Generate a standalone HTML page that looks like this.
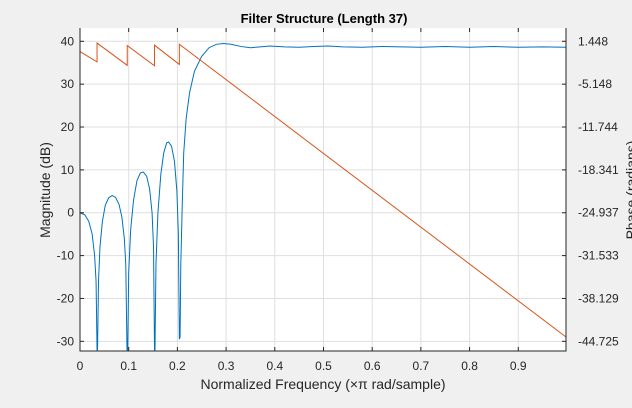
<!DOCTYPE html>
<html><head><meta charset="utf-8"><style>
body{margin:0;background:#f0f0f0;}
svg{display:block;font-family:"Liberation Sans",sans-serif;}
</style></head><body>
<svg id="chart" width="632" height="408" viewBox="0 0 632 408">
<rect x="0" y="0" width="632" height="408" fill="#f0f0f0"/>
<rect x="80" y="28" width="486" height="323" fill="#ffffff"/>
<g id="grid"></g>
<g id="series"></g>
<g id="axes"></g>
<text x="324" y="23" text-anchor="middle" font-size="13" font-weight="bold" fill="#000">Filter Structure (Length 37)</text>
<text x="323" y="389" text-anchor="middle" font-size="14" fill="#262626">Normalized Frequency (×π rad/sample)</text>
<text transform="translate(50,190) rotate(-90)" text-anchor="middle" font-size="14" fill="#262626">Magnitude (dB)</text>
<text transform="translate(636,190) rotate(-90)" text-anchor="middle" font-size="14" fill="#262626">Phase (radians)</text>
</svg>
<script>
const magFreq=[0,0.01,0.018,0.025,0.03,0.033,0.035,0.036,0.038,0.041,0.046,0.052,0.059,0.066,0.073,0.08,0.086,0.091,0.094,0.0965,0.098,0.1,0.104,0.11,0.117,0.124,0.13,0.137,0.143,0.148,0.151,0.153,0.154,0.156,0.16,0.166,0.172,0.178,0.182,0.188,0.194,0.199,0.202,0.204,0.2055,0.207,0.21,0.213,0.218,0.225,0.235,0.25,0.265,0.28,0.295,0.31,0.33,0.35,0.37,0.39,0.42,0.45,0.48,0.51,0.54,0.58,0.62,0.66,0.7,0.75,0.8,0.85,0.9,0.95,0.998];
const magDb=[0,-0.5,-2,-5,-10,-16,-32,-32,-16,-8,-2,1.8,3.5,4,3.6,2,-1,-6,-12,-32,-32,-14,-4,3,7.5,9.3,9.5,8.5,5.5,0,-8,-32,-32,-12,0,9,14,16.3,16.5,15.5,12,5,-5,-29.5,-29,-12,2,14,22,28,33,36.5,38.5,39.3,39.5,39.3,38.8,38.5,38.7,38.9,38.7,38.6,38.8,38.9,38.7,38.6,38.8,38.7,38.6,38.8,38.6,38.8,38.6,38.7,38.6];
const phaseFreq=[0,0.035,0.035,0.097,0.097,0.153,0.153,0.204,0.204,0.998];
const phaseRad=[-0.135,-1.72,1.18,-2.25,0.79,-2.31,0.85,-2.11,0.99,-44.06];
const xTicks=[0,0.1,0.2,0.3,0.4,0.5,0.6,0.7,0.8,0.9];
const yTicks=[40,30,20,10,0,-10,-20,-30];
const y2Ticks=["1.448","-5.148","-11.744","-18.341","-24.937","-31.533","-38.129","-44.725"];

const L=80,R=566,T=28,B=351,XMAX=0.998;
const X=f=>L+f/XMAX*(R-L);
const Y=d=>41.3+(40-d)*4.286;
const Yp=r=>Y(40+(r-1.448)/0.6596);
const ns="http://www.w3.org/2000/svg";
function mk(tag,attrs,parent){const e=document.createElementNS(ns,tag);for(const k in attrs)e.setAttribute(k,attrs[k]);parent.appendChild(e);return e;}
const grid=document.getElementById('grid'),series=document.getElementById('series'),axes=document.getElementById('axes');
xTicks.forEach(t=>{
  const g=mk('line',{x1:X(t),x2:X(t),y1:T,y2:B,stroke:'#dfdfdf','stroke-width':1},grid);
  
  
  const tk=mk('line',{x1:X(t),x2:X(t),y1:B,y2:B-4,stroke:'#262626'},axes);
  
  
  const tk2=mk('line',{x1:X(t),x2:X(t),y1:T,y2:T+4,stroke:'#262626'},axes);
  
  
  const lb=mk('text',{x:X(t),y:370,'text-anchor':'middle','font-size':12,fill:'#262626'},axes);
  lb.textContent=String(t);
  
  
});
yTicks.forEach((t,i)=>{
  const g=mk('line',{x1:L,x2:R,y1:Y(t),y2:Y(t),stroke:'#dfdfdf','stroke-width':1},grid);
  
  
  const tk=mk('line',{x1:L,x2:L+4,y1:Y(t),y2:Y(t),stroke:'#262626'},axes);
  
  
  const tk2=mk('line',{x1:R,x2:R-4,y1:Y(t),y2:Y(t),stroke:'#262626'},axes);
  
  
  const lb=mk('text',{x:74,y:Y(t)+4,'text-anchor':'end','font-size':12,fill:'#262626'},axes);
  lb.textContent=String(t);
  
  
  const lb2=mk('text',{x:578,y:Y(t)+4,'text-anchor':'start','font-size':12,fill:'#262626'},axes);
  lb2.textContent=y2Ticks[i];
  
  
});
const bx=mk('path',{d:`M${L},${T}V${B}H${R}V${T}`,fill:'none',stroke:'#262626','stroke-width':1},axes);


const mp=mk('polyline',{points:magFreq.map((f,i)=>X(f)+','+Y(magDb[i])).join(' '),fill:'none',stroke:'#0072bd','stroke-width':1},series);


const pp=mk('polyline',{points:phaseFreq.map((f,i)=>X(f)+','+Yp(phaseRad[i])).join(' '),fill:'none',stroke:'#d95319','stroke-width':1},series);


</script>
</body></html>
